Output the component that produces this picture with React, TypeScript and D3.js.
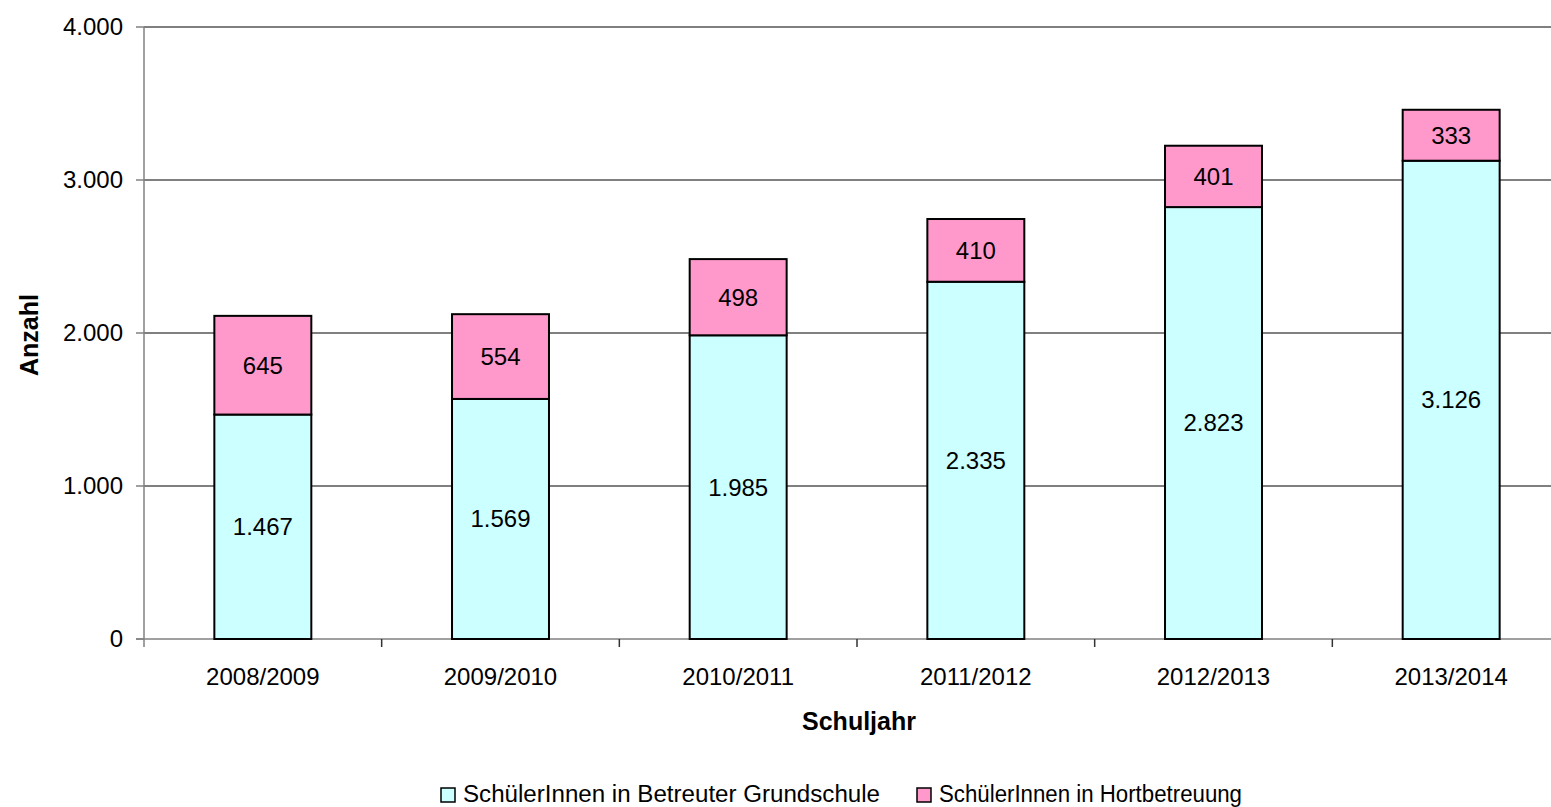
import React, { useEffect, useRef } from 'react';
import * as d3 from 'd3';

const years = ['2008/2009', '2009/2010', '2010/2011', '2011/2012', '2012/2013', '2013/2014'];
const grundschule = [1467, 1569, 1985, 2335, 2823, 3126];
const hort = [645, 554, 498, 410, 401, 333];
const yTicks = [0, 1000, 2000, 3000, 4000];
const seriesNames = ['SchülerInnen in Betreuter Grundschule', 'SchülerInnen in Hortbetreuung'];
const seriesColors = ['#CCFFFF', '#FF99CC'];

const de = d3.formatLocale({ decimal: ',', thousands: '.', grouping: [3], currency: ['', '€'] });
const fmt = de.format(',d');

export default function App() {
  const ref = useRef<SVGSVGElement | null>(null);

  useEffect(() => {
    const svg = d3.select(ref.current);
    svg.selectAll('*').remove();

    const font = '"Liberation Sans", Arial, sans-serif';
    const fs = '24px';
    const left = 144;
    const top = 27;
    const bottom = 639;
    const plotRight = 1570;

    const x = d3.scaleBand<string>().domain(years).range([left, plotRight]).paddingInner(0).paddingOuter(0);
    const y = d3.scaleLinear().domain([0, 4000]).range([bottom, top]);
    const barW = x.bandwidth() * 0.408;

    const data = years.map((yr, i) => ({ yr, g: grundschule[i], h: hort[i] }));

    // gridlines
    svg
      .selectAll('line.grid')
      .data(yTicks.filter((t) => t > 0))
      .enter()
      .append('line')
      .attr('x1', left)
      .attr('x2', 1551)
      .attr('y1', (d) => y(d))
      .attr('y2', (d) => y(d))
      .style('stroke', '#000')
      .style('stroke-width', 1);

    // x axis line
    svg
      .append('line')
      .attr('x1', left - 8)
      .attr('x2', 1551)
      .attr('y1', bottom)
      .attr('y2', bottom)
      .style('stroke', '#808080')
      .style('stroke-width', 1.5);

    // y axis line
    svg
      .append('line')
      .attr('x1', left)
      .attr('x2', left)
      .attr('y1', top)
      .attr('y2', bottom + 8)
      .style('stroke', '#808080')
      .style('stroke-width', 1.5);

    // y ticks
    svg
      .selectAll('line.ytick')
      .data(yTicks)
      .enter()
      .append('line')
      .attr('x1', left - 8)
      .attr('x2', left)
      .attr('y1', (d) => y(d))
      .attr('y2', (d) => y(d))
      .style('stroke', '#808080')
      .style('stroke-width', 1.5);

    svg
      .selectAll('text.ylab')
      .data(yTicks)
      .enter()
      .append('text')
      .attr('x', left - 21)
      .attr('y', (d) => y(d))
      .attr('dy', '0.35em')
      .style('text-anchor', 'end')
      .style('font-family', font)
      .style('font-size', fs)
      .text((d) => fmt(d));

    // x ticks at band boundaries
    const bounds = years.map((yr) => x(yr) as number).slice(1);
    svg
      .selectAll('line.xtick')
      .data(bounds)
      .enter()
      .append('line')
      .attr('x1', (d) => d)
      .attr('x2', (d) => d)
      .attr('y1', bottom)
      .attr('y2', bottom + 8)
      .style('stroke', '#333')
      .style('stroke-width', 1.5);

    svg
      .selectAll('text.xlab')
      .data(years)
      .enter()
      .append('text')
      .attr('x', (d) => (x(d) as number) + x.bandwidth() / 2)
      .attr('y', 677)
      .attr('dy', '0.35em')
      .style('text-anchor', 'middle')
      .style('font-family', font)
      .style('font-size', fs)
      .text((d) => d);

    // bars
    const cx = (d) => (x(d.yr) as number) + x.bandwidth() / 2;
    svg
      .selectAll('rect.g')
      .data(data)
      .enter()
      .append('rect')
      .attr('x', (d) => cx(d) - barW / 2)
      .attr('y', (d) => y(d.g))
      .attr('width', barW)
      .attr('height', (d) => y(0) - y(d.g))
      .style('fill', seriesColors[0])
      .style('stroke', '#000')
      .style('stroke-width', 2);

    svg
      .selectAll('rect.h')
      .data(data)
      .enter()
      .append('rect')
      .attr('x', (d) => cx(d) - barW / 2)
      .attr('y', (d) => y(d.g + d.h))
      .attr('width', barW)
      .attr('height', (d) => y(d.g) - y(d.g + d.h))
      .style('fill', seriesColors[1])
      .style('stroke', '#000')
      .style('stroke-width', 2);

    // value labels
    svg
      .selectAll('text.gl')
      .data(data)
      .enter()
      .append('text')
      .attr('x', cx)
      .attr('y', (d) => (y(0) + y(d.g)) / 2)
      .attr('dy', '0.35em')
      .style('text-anchor', 'middle')
      .style('font-family', font)
      .style('font-size', fs)
      .text((d) => fmt(d.g));

    svg
      .selectAll('text.hl')
      .data(data)
      .enter()
      .append('text')
      .attr('x', cx)
      .attr('y', (d) => (y(d.g) + y(d.g + d.h)) / 2)
      .attr('dy', '0.35em')
      .style('text-anchor', 'middle')
      .style('font-family', font)
      .style('font-size', fs)
      .text((d) => fmt(d.h));

    // axis titles
    svg
      .append('text')
      .attr('x', 859)
      .attr('y', 721)
      .attr('dy', '0.35em')
      .style('text-anchor', 'middle')
      .style('font-family', font)
      .style('font-size', '25px')
      .style('font-weight', 'bold')
      .text('Schuljahr');

    svg
      .append('text')
      .attr('transform', 'translate(29,335) rotate(-90)')
      .attr('dy', '0.35em')
      .style('text-anchor', 'middle')
      .style('font-family', font)
      .style('font-size', '25px')
      .style('font-weight', 'bold')
      .text('Anzahl');

    // legend
    const legendX = [441, 917];
    const legendW = [417, 303];
    const lg = svg
      .selectAll('g.legend')
      .data(seriesNames)
      .enter()
      .append('g')
      .attr('transform', (d, i) => 'translate(' + legendX[i] + ',794)');
    lg.append('rect')
      .attr('x', 0)
      .attr('y', -6)
      .attr('width', 14)
      .attr('height', 14)
      .style('fill', (d, i) => seriesColors[i])
      .style('stroke', '#000')
      .style('stroke-width', 1.5);
    lg.append('text')
      .attr('x', 22)
      .attr('y', 0)
      .attr('dy', '0.35em')
      .attr('textLength', (d, i) => legendW[i])
      .attr('lengthAdjust', 'spacingAndGlyphs')
      .style('font-family', font)
      .style('font-size', '23px')
      .text((d) => d);
  }, []);

  return (
    <svg
      ref={ref}
      width={1551}
      height={807}
      style={{ position: 'absolute', left: 0, top: 0, background: '#fff', display: 'block' }}
    />
  );
}
